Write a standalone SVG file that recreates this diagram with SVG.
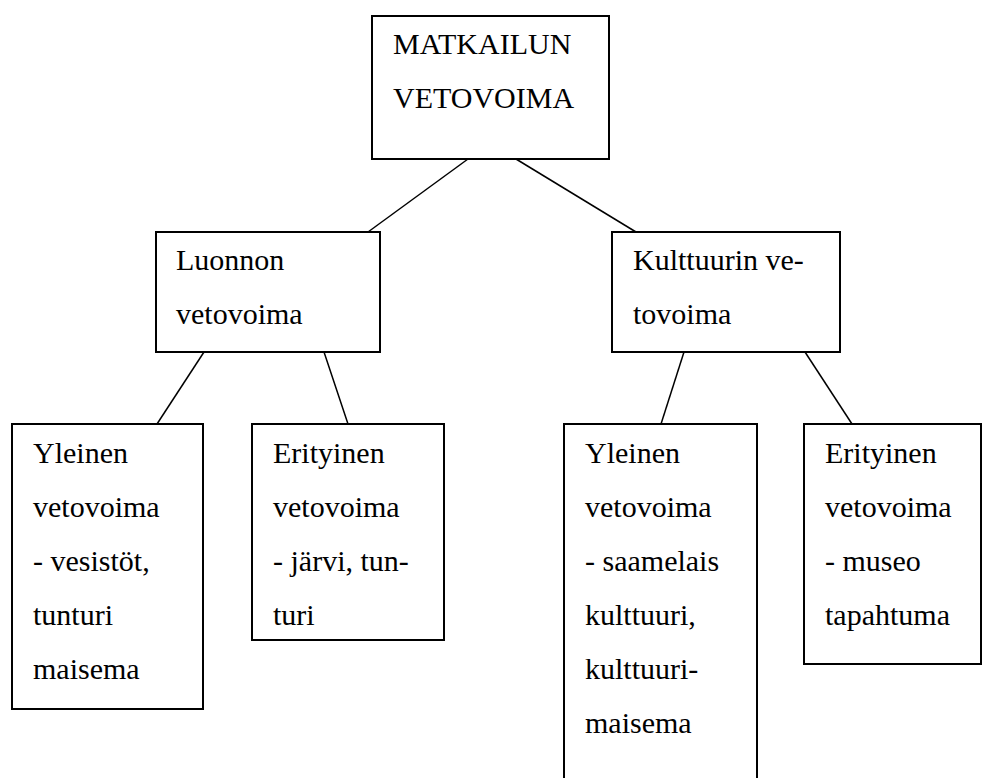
<svg xmlns="http://www.w3.org/2000/svg" width="983" height="778" viewBox="0 0 983 778" font-family="'Liberation Serif', 'Times New Roman', serif" font-size="30">
  <rect x="0" y="0" width="983" height="778" fill="#ffffff"/>

  <!-- tree links between the boxes -->
  <g id="connectors" stroke="#000000" stroke-width="1.5" fill="none">
    <line x1="468" y1="159" x2="368" y2="232"/>
    <line x1="516" y1="159" x2="636" y2="232"/>
    <line x1="204" y1="352" x2="157" y2="424"/>
    <line x1="324" y1="352" x2="348" y2="424"/>
    <line x1="684" y1="352" x2="661" y2="424"/>
    <line x1="805" y1="352" x2="852" y2="424"/>
  </g>

  <g id="matkailun-vetovoima">
    <rect x="372" y="16" width="237" height="143" fill="#ffffff" stroke="#000000" stroke-width="2"/>
    <text x="393" y="54">MATKAILUN</text>
    <text x="393" y="108">VETOVOIMA</text>
  </g>

  <g id="luonnon-vetovoima">
    <rect x="156" y="232" width="224" height="120" fill="#ffffff" stroke="#000000" stroke-width="2"/>
    <text x="176" y="270">Luonnon</text>
    <text x="176" y="324">vetovoima</text>
  </g>

  <g id="kulttuurin-vetovoima">
    <rect x="612" y="232" width="228" height="120" fill="#ffffff" stroke="#000000" stroke-width="2"/>
    <text x="633" y="270">Kulttuurin ve-</text>
    <text x="633" y="324">tovoima</text>
  </g>

  <g id="luonto-yleinen">
    <rect x="12" y="424" width="191" height="285" fill="#ffffff" stroke="#000000" stroke-width="2"/>
    <text x="33" y="463">Yleinen</text>
    <text x="33" y="517">vetovoima</text>
    <text x="33" y="571">- vesist&#246;t,</text>
    <text x="33" y="625">tunturi</text>
    <text x="33" y="679">maisema</text>
  </g>

  <g id="luonto-erityinen">
    <rect x="252" y="424" width="192" height="216" fill="#ffffff" stroke="#000000" stroke-width="2"/>
    <text x="273" y="463">Erityinen</text>
    <text x="273" y="517">vetovoima</text>
    <text x="273" y="571">- j&#228;rvi, tun-</text>
    <text x="273" y="625">turi</text>
  </g>

  <g id="kulttuuri-yleinen">
    <rect x="564" y="424" width="193" height="362" fill="#ffffff" stroke="#000000" stroke-width="2"/>
    <text x="585" y="463">Yleinen</text>
    <text x="585" y="517">vetovoima</text>
    <text x="585" y="571">- saamelais</text>
    <text x="585" y="625">kulttuuri,</text>
    <text x="585" y="679">kulttuuri-</text>
    <text x="585" y="733">maisema</text>
  </g>

  <g id="kulttuuri-erityinen">
    <rect x="804" y="424" width="177" height="240" fill="#ffffff" stroke="#000000" stroke-width="2"/>
    <text x="825" y="463">Erityinen</text>
    <text x="825" y="517">vetovoima</text>
    <text x="825" y="571">- museo</text>
    <text x="825" y="625">tapahtuma</text>
  </g>
</svg>
